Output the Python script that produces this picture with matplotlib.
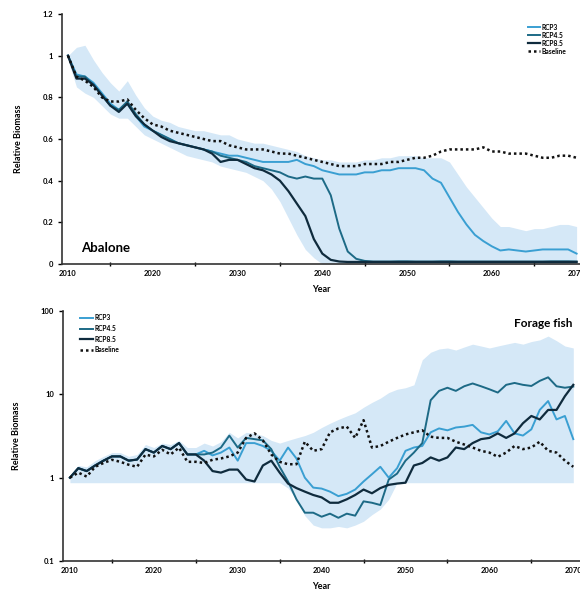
import numpy as np
import matplotlib
matplotlib.use("Agg")
import matplotlib.pyplot as plt
from matplotlib.ticker import FixedLocator, FuncFormatter, NullLocator

plt.rcParams['font.family'] = ['Lato', 'DejaVu Sans']
plt.rcParams['font.weight'] = 'bold'

# =========================
# DATA
# =========================
years = list(range(2010, 2071))

# Abalone (relative biomass, linear)
ab_rcp3 = [1.00, 0.91, 0.90, 0.87, 0.82, 0.77, 0.74, 0.77, 0.71, 0.66,
           0.64, 0.62, 0.60, 0.58, 0.57, 0.56, 0.55, 0.54, 0.53, 0.52,
           0.52, 0.51, 0.50, 0.49, 0.49, 0.49, 0.49, 0.50, 0.48, 0.47,
           0.45, 0.44, 0.43, 0.43, 0.43, 0.44, 0.44, 0.45, 0.45, 0.46,
           0.46, 0.46, 0.45, 0.41, 0.39, 0.32, 0.25, 0.19, 0.14, 0.11,
           0.085, 0.065, 0.07, 0.065, 0.06, 0.065, 0.07, 0.07, 0.07, 0.07,
           0.05]
ab_rcp45 = [1.00, 0.90, 0.90, 0.86, 0.81, 0.76, 0.74, 0.78, 0.72, 0.67,
            0.64, 0.62, 0.60, 0.58, 0.57, 0.56, 0.55, 0.54, 0.52, 0.51,
            0.50, 0.49, 0.47, 0.46, 0.45, 0.44, 0.42, 0.41, 0.42, 0.41,
            0.41, 0.33, 0.17, 0.06, 0.025, 0.015, 0.012, 0.012, 0.012, 0.013,
            0.013, 0.012, 0.012, 0.012, 0.013, 0.013, 0.012, 0.012, 0.012, 0.012,
            0.012, 0.012, 0.012, 0.012, 0.012, 0.012, 0.012, 0.013, 0.013, 0.013,
            0.012]
ab_rcp85 = [1.00, 0.89, 0.89, 0.86, 0.81, 0.76, 0.73, 0.77, 0.71, 0.67,
            0.64, 0.61, 0.59, 0.58, 0.57, 0.56, 0.55, 0.53, 0.49, 0.50,
            0.50, 0.48, 0.46, 0.45, 0.43, 0.40, 0.35, 0.29, 0.23, 0.12,
            0.05, 0.02, 0.012, 0.01, 0.01, 0.01, 0.01, 0.01, 0.01, 0.01,
            0.01, 0.01, 0.01, 0.01, 0.01, 0.01, 0.01, 0.01, 0.01, 0.01,
            0.01, 0.01, 0.01, 0.01, 0.01, 0.01, 0.01, 0.01, 0.01, 0.01,
            0.01]
ab_base = [1.00, 0.90, 0.88, 0.85, 0.80, 0.78, 0.78, 0.79, 0.74, 0.70,
           0.67, 0.66, 0.64, 0.63, 0.62, 0.61, 0.60, 0.59, 0.59, 0.57,
           0.56, 0.55, 0.55, 0.55, 0.54, 0.53, 0.53, 0.52, 0.51, 0.50,
           0.49, 0.48, 0.47, 0.47, 0.47, 0.48, 0.48, 0.48, 0.49, 0.49,
           0.50, 0.51, 0.51, 0.52, 0.54, 0.55, 0.55, 0.55, 0.55, 0.56,
           0.54, 0.54, 0.53, 0.53, 0.53, 0.52, 0.51, 0.51, 0.52, 0.52,
           0.51]
ab_upper = [1.00, 1.04, 1.05, 0.98, 0.92, 0.87, 0.83, 0.88, 0.81, 0.75,
            0.71, 0.69, 0.68, 0.66, 0.65, 0.64, 0.64, 0.63, 0.62, 0.62,
            0.60, 0.59, 0.58, 0.58, 0.57, 0.56, 0.55, 0.54, 0.52, 0.51,
            0.50, 0.50, 0.49, 0.49, 0.49, 0.50, 0.50, 0.51, 0.51, 0.52,
            0.52, 0.52, 0.51, 0.51, 0.51, 0.49, 0.43, 0.37, 0.32, 0.27,
            0.22, 0.18, 0.18, 0.17, 0.16, 0.17, 0.17, 0.18, 0.19, 0.19,
            0.18]
ab_lower = [0.98, 0.85, 0.82, 0.80, 0.76, 0.72, 0.70, 0.70, 0.66, 0.62,
            0.60, 0.58, 0.56, 0.54, 0.52, 0.51, 0.50, 0.49, 0.47, 0.46,
            0.45, 0.44, 0.42, 0.40, 0.36, 0.30, 0.22, 0.14, 0.07, 0.03,
            0.0, 0.0, 0.0, 0.0, 0.0, 0.0, 0.0, 0.0, 0.0, 0.0,
            0.0, 0.0, 0.0, 0.0, 0.0, 0.0, 0.0, 0.0, 0.0, 0.0,
            0.0, 0.0, 0.0, 0.0, 0.0, 0.0, 0.0, 0.0, 0.0, 0.0,
            0.0]

# Forage fish (relative biomass, log scale)
ff_rcp3 = [1.0, 1.3, 1.2, 1.4, 1.6, 1.8, 1.8, 1.6, 1.65, 2.2,
           2.0, 2.4, 2.2, 2.6, 1.9, 1.9, 2.1, 1.85, 2.0, 2.3,
           1.6, 2.6, 2.6, 2.4, 2.1, 1.6, 2.3, 1.7, 1.0, 0.76,
           0.74, 0.68, 0.6, 0.64, 0.72, 0.9, 1.1, 1.35, 1.0, 1.3,
           2.1, 2.3, 2.4, 3.5, 3.9, 3.7, 4.0, 4.1, 4.3, 3.5,
           3.3, 3.6, 4.8, 3.4, 3.2, 3.8, 6.5, 8.3, 5.0, 5.5,
           2.9]
ff_rcp45 = [1.0, 1.3, 1.2, 1.4, 1.6, 1.8, 1.8, 1.6, 1.65, 2.2,
            2.0, 2.4, 2.2, 2.6, 1.9, 1.9, 1.9, 2.0, 2.3, 3.2,
            2.3, 3.0, 2.9, 2.8, 2.2, 1.35, 0.9, 0.55, 0.38, 0.38,
            0.34, 0.37, 0.33, 0.37, 0.35, 0.52, 0.5, 0.47, 0.95, 1.12,
            1.6, 2.0, 2.6, 8.5, 11.0, 12.0, 11.0, 12.5, 13.5, 12.5,
            11.5, 10.5, 13.0, 13.7, 13.0, 12.6, 14.5, 16.0, 12.5, 12.0,
            12.4]
ff_rcp85 = [1.0, 1.3, 1.2, 1.4, 1.6, 1.8, 1.8, 1.6, 1.65, 2.2,
            2.0, 2.4, 2.2, 2.6, 1.9, 1.9, 1.6, 1.2, 1.15, 1.25,
            1.25, 0.95, 0.9, 1.4, 1.6, 1.15, 0.85, 0.75, 0.68, 0.62,
            0.58, 0.5, 0.5, 0.55, 0.62, 0.72, 0.65, 0.75, 0.82, 0.85,
            0.87, 1.4, 1.5, 1.75, 1.6, 1.75, 2.3, 2.2, 2.6, 2.9,
            3.0, 3.4, 3.0, 3.4, 4.5, 5.5, 5.0, 6.5, 6.5, 9.5,
            13.0]
ff_base = [1.0, 1.15, 1.03, 1.35, 1.5, 1.64, 1.55, 1.43, 1.35, 1.89,
           1.8, 2.16, 1.9, 2.29, 1.55, 1.55, 1.5, 1.64, 1.7, 1.8,
           2.0, 3.0, 3.4, 2.8, 1.9, 1.55, 1.45, 1.45, 2.7, 2.1,
           2.2, 3.5, 3.9, 4.1, 3.0, 4.9, 2.3, 2.4, 2.7, 3.0,
           3.3, 3.5, 3.7, 3.1, 3.0, 3.0, 2.7, 2.5, 2.3, 2.1,
           2.0, 1.78, 2.0, 2.4, 2.2, 2.3, 2.7, 2.1, 2.0, 1.6,
           1.35]
ff_upper = [1.05, 1.4, 1.35, 1.6, 1.8, 2.0, 2.0, 1.8, 1.9, 2.5,
            2.3, 2.6, 2.5, 2.8, 2.3, 2.3, 2.6, 2.4, 2.7, 3.5,
            3.0, 3.5, 3.4, 3.2, 2.8, 2.6, 2.8, 3.0, 3.2, 3.5,
            4.0, 4.5, 5.0, 5.5, 6.0, 7.0, 8.0, 9.0, 10.5, 11.5,
            12.0, 13.0, 26.0, 32.0, 35.0, 36.0, 34.0, 37.0, 40.0, 38.0,
            36.0, 38.0, 40.0, 42.0, 40.0, 43.0, 45.0, 50.0, 44.0, 38.0,
            36.0]
ff_lower = [0.87, 0.87, 0.87, 0.87, 0.87, 0.87, 0.87, 0.87, 0.87, 0.87,
            0.87, 0.87, 0.87, 0.87, 0.87, 0.87, 0.87, 0.87, 0.87, 0.87,
            0.87, 0.87, 0.87, 0.87, 0.87, 0.87, 0.75, 0.55, 0.35, 0.27,
            0.25, 0.25, 0.26, 0.25, 0.27, 0.30, 0.36, 0.42, 0.55, 0.87,
            0.87, 0.87, 0.87, 0.87, 0.87, 0.87, 0.87, 0.87, 0.87, 0.87,
            0.87, 0.87, 0.87, 0.87, 0.87, 0.87, 0.87, 0.87, 0.87, 0.87,
            0.87]

labels = ["RCP3", "RCP4.5", "RCP8.5", "Baseline"]
colors = ["#3a9fd2", "#1d6a86", "#0f2b3d", "#111111"]
band_color = "#d5e8f7"

# =========================
# PLOT
# =========================
fig = plt.figure(figsize=(5.8, 5.96), dpi=100)
ax1 = fig.add_axes([0.107, 0.557, 0.893, 0.4195])
ax2 = fig.add_axes([0.109, 0.0587, 0.891, 0.4195])


def draw(ax, r3, r45, r85, base, up, lo, xlim):
    ax.fill_between(years, lo, up, color=band_color, lw=0, zorder=1)
    ax.plot(years, r3, color=colors[0], lw=1.4, label=labels[0], zorder=3)
    ax.plot(years, r45, color=colors[1], lw=1.4, label=labels[1], zorder=3)
    ax.plot(years, r85, color=colors[2], lw=1.6, label=labels[2], zorder=3)
    ax.plot(years, base, color=colors[3], lw=1.8, ls=(0, (1, 1.2)),
            label=labels[3], zorder=4)
    ax.set_xlim(*xlim)
    ax.set_xticks(range(2010, 2071, 10))
    ax.set_xticks(range(2015, 2071, 10), minor=True)
    ax.tick_params(axis='x', which='major', length=0, labelsize=5.5, pad=4)
    ax.tick_params(axis='x', which='minor', length=3, direction='inout', width=1)
    ax.tick_params(axis='y', which='major', length=3, labelsize=5.5, width=1)
    for s in ["top", "right"]:
        ax.spines[s].set_visible(False)
    for s in ["left", "bottom"]:
        ax.spines[s].set_color("#333333")
        ax.spines[s].set_linewidth(1.2)
    ax.set_xlabel("Year", fontsize=6.5, fontweight='bold', labelpad=6)
    ax.set_ylabel("Relative Biomass", fontsize=6.5, fontweight='bold', labelpad=14)


draw(ax1, ab_rcp3, ab_rcp45, ab_rcp85, ab_base, ab_upper, ab_lower,
     (2009.3, 2070.4))
ax1.set_ylim(0, 1.2)
ax1.set_yticks([0, 0.2, 0.4, 0.6, 0.8, 1.0, 1.2])
ax1.set_yticklabels(["0", "0.2", "0.4", "0.6", "0.8", "1", "1.2"])
ax1.text(2011.5, 0.06, "Abalone", fontsize=9.5, fontweight='bold')
ax1.legend(loc="upper right", bbox_to_anchor=(0.985, 0.985), frameon=False,
           fontsize=4.8, handlelength=1.8, handletextpad=0.2, labelspacing=0.15)

draw(ax2, ff_rcp3, ff_rcp45, ff_rcp85, ff_base, ff_upper, ff_lower,
     (2009.2, 2070.8))
ax2.set_yscale("log")
ax2.set_ylim(0.1, 100)
ax2.yaxis.set_major_locator(FixedLocator([0.1, 1, 10, 100]))
ax2.yaxis.set_minor_locator(NullLocator())
ax2.yaxis.set_major_formatter(FuncFormatter(lambda v, p: f"{v:g}"))
ax2.text(0.985, 0.97, "Forage fish", transform=ax2.transAxes, fontsize=8.5,
         fontweight='bold', ha="right", va="top")
ax2.legend(loc="upper left", bbox_to_anchor=(0.02, 1.01), frameon=False,
           fontsize=4.8, handlelength=2.0, handletextpad=0.2, labelspacing=0.55)

fig.savefig("out.png", dpi=100)
